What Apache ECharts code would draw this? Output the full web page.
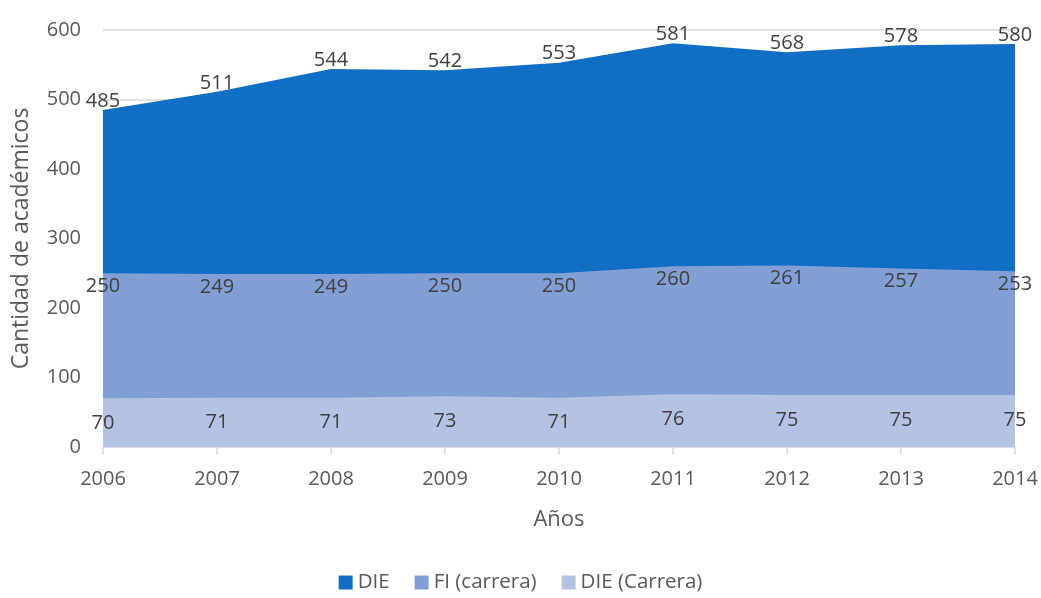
<!DOCTYPE html>
<html>
<head>
<meta charset="utf-8">
<script src="https://cdn.jsdelivr.net/npm/echarts@6/dist/echarts.min.js"></script>
<style>
  html, body { margin: 0; padding: 0; background: #fff; }
  #chart { width: 1041px; height: 598px; }
</style>
</head>
<body>
<div id="chart"></div>
<script>
const years = ['2006', '2007', '2008', '2009', '2010', '2011', '2012', '2013', '2014']
const die = [485, 511, 544, 542, 553, 581, 568, 578, 580]
const fiCarrera = [250, 249, 249, 250, 250, 260, 261, 257, 253]
const dieCarrera = [70, 71, 71, 73, 71, 76, 75, 75, 75]

const font = '"Open Sans", "Noto Sans", sans-serif'

// one area series, areas overlap (not stacked)
const areaSeries = (name, values, color, offset) => ({
  name: name,
  type: 'line',
  data: values,
  showSymbol: true,
  symbol: 'circle',
  symbolSize: 0,
  lineStyle: { width: 0 },
  itemStyle: { color: color },
  areaStyle: { color: color, opacity: 1 },
  label: {
    show: true,
    position: 'inside',
    offset: offset,
    color: '#404040',
    fontSize: 20,
    fontFamily: font
  }
})

const chart = echarts.init(document.getElementById('chart'))
chart.setOption({
  animation: false,
  textStyle: { fontFamily: font },
  grid: { left: 103, right: 26, top: 30, bottom: 151 },
  xAxis: {
    type: 'category',
    data: years,
    boundaryGap: false,
    name: 'Años',
    nameLocation: 'middle',
    nameGap: 62,
    nameTextStyle: { color: '#595959', fontSize: 22 },
    axisLine: { lineStyle: { color: '#d9d9d9', width: 1.5 } },
    axisTick: { show: true, alignWithLabel: true, length: 8, lineStyle: { color: '#d9d9d9', width: 1.5 } },
    axisLabel: { color: '#595959', fontSize: 20, margin: 22 }
  },
  yAxis: {
    type: 'value',
    min: 0,
    max: 600,
    interval: 100,
    name: 'Cantidad de académicos',
    nameLocation: 'middle',
    nameGap: 70,
    nameTextStyle: { color: '#595959', fontSize: 23 },
    axisLine: { show: false },
    axisTick: { show: false },
    axisLabel: { color: '#595959', fontSize: 20, margin: 22 },
    splitLine: { lineStyle: { color: '#d9d9d9', width: 1.5 } }
  },
  legend: {
    bottom: 0,
    left: 'center',
    itemWidth: 14,
    itemHeight: 14,
    itemGap: 25,
    icon: 'rect',
    textStyle: { color: '#595959', fontSize: 20.5 },
    data: ['DIE', 'FI (carrera)', 'DIE (Carrera)']
  },
  series: [
    areaSeries('DIE', die, '#106ec5', [0, -9]),
    areaSeries('FI (carrera)', fiCarrera, '#829fd5', [0, 13]),
    areaSeries('DIE (Carrera)', dieCarrera, '#b4c3e3', [0, 25])
  ]
})
</script>
</body>
</html>
